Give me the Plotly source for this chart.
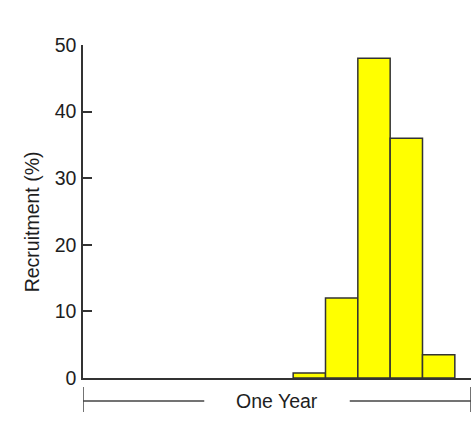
import plotly.graph_objects as go

# Monthly recruitment histogram
months = [7, 8, 9, 10, 11]
recruitment = [0.75, 12, 48, 36, 3.5]
y_ticks = [0, 10, 20, 30, 40, 50]
year_span = [0, 12]
span_label = "One Year"

AXIS = "#333333"
TEXT = "#1e1e1e"
FONT_SIZE = 19.5

fig = go.Figure(
    go.Bar(
        x=months,
        y=recruitment,
        width=1,
        marker=dict(color="#ffff00", line=dict(color=AXIS, width=1.5)),
    )
)

fig.update_layout(
    width=475,
    height=441,
    margin=dict(l=83, r=4, t=45, b=63),
    plot_bgcolor="white",
    paper_bgcolor="white",
    showlegend=False,
    font=dict(family="Liberation Sans, Arial, sans-serif", size=FONT_SIZE, color=TEXT),
)

fig.update_xaxes(
    range=year_span,
    showticklabels=False,
    ticks="",
    showline=True,
    linecolor=AXIS,
    linewidth=1.5,
    showgrid=False,
    zeroline=False,
)
fig.update_yaxes(
    range=[0, 50],
    tickvals=y_ticks,
    ticks="inside",
    ticklen=9,
    tickcolor=AXIS,
    tickwidth=1.5,
    showline=True,
    linecolor=AXIS,
    linewidth=1.5,
    showgrid=False,
    zeroline=False,
    ticklabelstandoff=1,
)

# Y axis title
fig.add_annotation(
    text="Recruitment (%)",
    xref="paper", yref="paper",
    x=-0.131, y=0.468,
    xanchor="center", yanchor="middle",
    textangle=-90,
    showarrow=False,
    font=dict(size=FONT_SIZE, color=TEXT),
)

# Span bracket under the axis
mid = (year_span[0] + year_span[1]) / 2
gap = 2.25
y_line = -0.069
y_lo, y_hi = -0.102, -0.027
bracket = dict(color="#444444", width=1.5)
for x0, x1 in [(year_span[0], mid - gap), (mid + gap, year_span[1])]:
    fig.add_shape(type="line", xref="x", yref="paper", x0=x0, x1=x1, y0=y_line, y1=y_line, line=bracket)
for xe in year_span:
    fig.add_shape(type="line", xref="x", yref="paper", x0=xe, x1=xe, y0=y_lo, y1=y_hi, line=bracket)
fig.add_annotation(
    text=span_label,
    xref="x", yref="paper",
    x=mid, y=y_line,
    xanchor="center", yanchor="middle",
    showarrow=False,
    font=dict(size=FONT_SIZE, color=TEXT),
)

fig.write_html("out.html")
